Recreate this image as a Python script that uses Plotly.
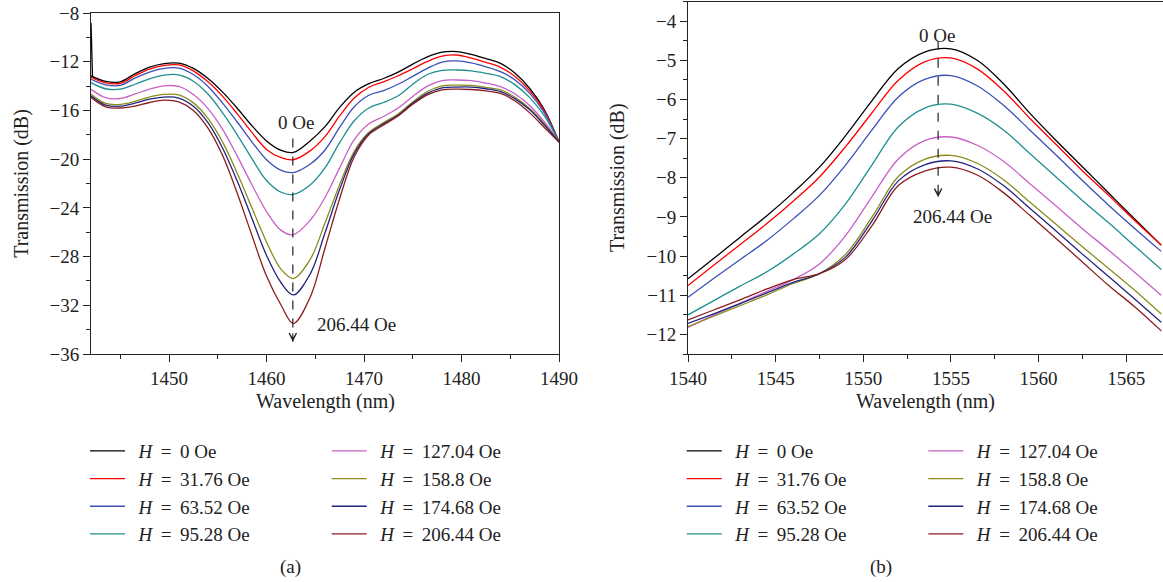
import plotly.graph_objects as go

# ---------------- data ----------------
fields = ["0", "31.76", "63.52", "95.28", "127.04", "158.8", "174.68", "206.44"]
colors = ["#000000", "#ff0000", "#3c50b4", "#1f8f8f", "#c860c8", "#8c8c1e", "#23237d", "#8b1c1c"]

# Panel (a): wavelength (nm) and transmission (dB)
xa = [1442, 1443.5, 1445, 1446.5, 1448, 1449.5, 1451, 1452.5, 1454, 1455.5, 1457, 1458.5, 1460,
      1461.5, 1462.75, 1464.5, 1466, 1467.5, 1469, 1470.5, 1472, 1473.5, 1475, 1476.5, 1478,
      1479.5, 1481, 1482.5, 1484, 1485.5, 1487, 1488.5, 1490]
ya_0 = [-13.17, -13.62, -13.65, -13.0, -12.45, -12.15, -12.12, -12.55, -13.38, -14.5, -15.82, -17.25, -18.5,
        -19.28, -19.45, -18.48, -17.33, -15.75, -14.5, -13.8, -13.38, -12.85, -12.2, -11.6, -11.22,
        -11.17, -11.4, -11.75, -12.13, -12.95, -14.2, -15.95, -18.6]
ya_1 = [-13.28, -13.73, -13.78, -13.15, -12.6, -12.3, -12.26, -12.75, -13.65, -14.85, -16.28, -17.8, -19.2,
        -19.88, -20.05, -19.3, -18.15, -16.45, -14.98, -14.1, -13.65, -13.15, -12.58, -11.98, -11.55,
        -11.45, -11.7, -12.05, -12.46, -13.22, -14.4, -16.05, -18.6]
ya_2 = [-13.45, -13.9, -13.95, -13.35, -12.85, -12.55, -12.52, -13.05, -14.03, -15.4, -16.95, -18.58, -20.05,
        -20.92, -21.1, -20.4, -19.25, -17.4, -15.7, -14.75, -14.38, -13.85, -13.2, -12.55, -12.03,
        -11.93, -12.1, -12.42, -12.82, -13.5, -14.6, -16.2, -18.6]
ya_3 = [-13.72, -14.22, -14.25, -13.85, -13.4, -13.1, -13.08, -13.6, -14.65, -16.2, -18.0, -19.95, -21.75,
        -22.72, -22.9, -22.1, -20.72, -18.65, -16.85, -15.8, -15.35, -14.8, -13.85, -13.05, -12.72,
        -12.68, -12.75, -12.95, -13.23, -13.9, -14.95, -16.45, -18.6]
ya_4 = [-14.27, -14.95, -15.02, -14.65, -14.25, -13.98, -14.03, -14.7, -15.85, -17.55, -19.75, -22.1, -24.3,
        -25.85, -26.2, -25.0, -23.15, -20.72, -18.4, -17.1, -16.5, -15.8, -14.85, -14.0, -13.55,
        -13.5, -13.56, -13.75, -14.05, -14.65, -15.6, -16.95, -18.6]
ya_5 = [-14.68, -15.42, -15.5, -15.25, -14.9, -14.68, -14.72, -15.38, -16.65, -18.6, -21.15, -24.0, -26.8,
        -29.05, -29.8, -28.2, -25.25, -22.1, -19.35, -17.8, -17.0, -16.3, -15.3, -14.45, -13.98,
        -13.92, -13.95, -14.1, -14.32, -14.92, -15.85, -17.1, -18.6]
ya_6 = [-14.82, -15.56, -15.65, -15.4, -15.08, -14.9, -14.98, -15.65, -17.0, -19.1, -21.8, -24.85, -27.9,
        -30.15, -31.15, -29.4, -26.05, -22.5, -19.55, -17.9, -17.1, -16.4, -15.4, -14.6, -14.15,
        -14.08, -14.08, -14.22, -14.46, -15.05, -15.95, -17.2, -18.6]
ya_7 = [-14.93, -15.7, -15.8, -15.65, -15.35, -15.15, -15.3, -16.0, -17.45, -19.7, -22.8, -26.25, -29.6,
        -32.0, -33.5, -31.3, -27.3, -23.25, -19.8, -18.0, -17.2, -16.45, -15.5, -14.72, -14.32,
        -14.25, -14.28, -14.4, -14.6, -15.22, -16.2, -17.4, -18.6]
# short spike at the very start of the 0 Oe trace
xa_spike = [1442.0, 1442.15]
ya_spike = [-8.8, -13.17]

# Panel (b)
xb = [1540, 1541.5, 1543, 1544.5, 1546, 1547.5, 1549, 1550.5, 1552, 1553.5, 1555, 1556.5,
      1558, 1559.5, 1561, 1562.5, 1564, 1565.5, 1567]
yb_0 = [-10.58, -10.05, -9.51, -8.97, -8.38, -7.73, -6.92, -6.03, -5.21, -4.79, -4.71, -5.0,
        -5.6, -6.35, -7.05, -7.72, -8.39, -9.06, -9.72]
yb_1 = [-10.75, -10.22, -9.7, -9.17, -8.6, -7.98, -7.2, -6.34, -5.51, -5.04, -4.94, -5.22,
        -5.78, -6.48, -7.15, -7.82, -8.45, -9.1, -9.72]
yb_2 = [-11.05, -10.56, -10.08, -9.6, -9.05, -8.45, -7.67, -6.78, -5.94, -5.49, -5.39, -5.65,
        -6.15, -6.78, -7.42, -8.07, -8.7, -9.3, -9.88]
yb_3 = [-11.5, -11.13, -10.76, -10.4, -9.95, -9.43, -8.66, -7.67, -6.7, -6.22, -6.12, -6.35,
        -6.78, -7.38, -7.98, -8.58, -9.15, -9.75, -10.34]
yb_4 = [-11.82, -11.5, -11.2, -10.9, -10.6, -10.2, -9.47, -8.48, -7.52, -7.05, -6.96, -7.17,
        -7.58, -8.15, -8.72, -9.3, -9.85, -10.42, -11.0]
yb_5 = [-11.8, -11.53, -11.26, -10.99, -10.7, -10.45, -9.95, -9.0, -7.97, -7.53, -7.43, -7.63,
        -8.05, -8.62, -9.19, -9.76, -10.32, -10.88, -11.48]
yb_6 = [-11.72, -11.47, -11.21, -10.94, -10.67, -10.45, -10.02, -9.1, -8.08, -7.67, -7.57, -7.77,
        -8.2, -8.78, -9.36, -9.95, -10.52, -11.1, -11.69]
yb_7 = [-11.63, -11.37, -11.11, -10.84, -10.6, -10.45, -10.08, -9.22, -8.2, -7.83, -7.73, -7.93,
        -8.38, -8.96, -9.55, -10.15, -10.75, -11.3, -11.91]

ya_all = [ya_0, ya_1, ya_2, ya_3, ya_4, ya_5, ya_6, ya_7]
yb_all = [yb_0, yb_1, yb_2, yb_3, yb_4, yb_5, yb_6, yb_7]

# arrow markers: x position, y start, y tip
arrow_a = [1462.7, -18.3, -35.0]
arrow_b = [1554.27, -4.5, -8.5]
labels_a = [(1463.05, -17.03, "0 Oe"), (1469.2, -33.6, "206.44 Oe")]
labels_b = [(1554.2, -4.36, "0 Oe"), (1555.09, -8.99, "206.44 Oe")]

FONT = "Liberation Serif"
INK = "#222"
W, H = 1163, 582
ML, MR, MT, MB = 91, 0, 1, 228

def fx(p):  # pixel x -> paper fraction
    return (p - ML) / (W - ML - MR)

def fy(p):  # pixel y -> paper fraction
    return (H - MB - p) / (H - MT - MB)

fig = go.Figure()

fig.add_trace(go.Scatter(x=xa_spike, y=ya_spike, mode="lines", xaxis="x", yaxis="y",
                         line=dict(color=colors[0], width=1.3), showlegend=False,
                         hoverinfo="skip"))

def label(f):
    return "\u00a0\u2009<i>H</i> \u2009=\u2009 " + f + " Oe"

for i, (f, c) in enumerate(zip(fields, colors)):
    fig.add_trace(go.Scatter(
        x=xa, y=ya_all[i], mode="lines", xaxis="x", yaxis="y",
        line=dict(color=c, width=1.3, shape="spline", smoothing=1.0),
        name=label(f), legend="legend" if i < 4 else "legend2"))

for i, (f, c) in enumerate(zip(fields, colors)):
    fig.add_trace(go.Scatter(
        x=xb, y=yb_all[i], mode="lines", xaxis="x2", yaxis="y2",
        line=dict(color=c, width=1.3, shape="spline", smoothing=1.0),
        name=label(f), legend="legend3" if i < 4 else "legend4"))

axis_common = dict(showgrid=False, zeroline=False, showline=True, linecolor=INK,
                   linewidth=1, ticks="outside", ticklen=7, tickwidth=1, tickcolor=INK,
                   automargin=False,
                   tickfont=dict(family=FONT, size=19, color=INK),
                   title_font=dict(family=FONT, size=20, color=INK))

legend_common = dict(font=dict(family=FONT, size=19, color=INK), bgcolor="rgba(0,0,0,0)",
                     xanchor="left", yanchor="top", itemwidth=35, tracegroupgap=0)

ly = fy(432.0)
fig.update_layout(
    width=W, height=H, margin=dict(l=ML, r=MR, t=MT, b=MB, autoexpand=False),
    paper_bgcolor="white", plot_bgcolor="white",
    font=dict(family=FONT, color=INK),
    xaxis=dict(domain=[0, fx(559)], range=[1442, 1490], tick0=1450, dtick=10,
               minor=dict(dtick=5, ticklen=4, tickcolor=INK, ticks="outside"),
               mirror=True, anchor="y", **axis_common),
    yaxis=dict(domain=[0, fy(13)], range=[-36, -8], tick0=-36, dtick=4,
               minor=dict(dtick=2, ticklen=4, tickcolor=INK, ticks="outside"),
               mirror=True, anchor="x", title=dict(text="Transmission (dB)", standoff=15),
               **axis_common),
    xaxis2=dict(domain=[fx(688), 1.0], range=[1540, 1567.1], tick0=1540, dtick=5,
                minor=dict(dtick=2.5, ticklen=4, tickcolor=INK, ticks="outside"),
                mirror=True, anchor="y2", **axis_common),
    yaxis2=dict(domain=[0, fy(1.5)], range=[-12.5, -3.5], tick0=-12, dtick=1,
                minor=dict(dtick=0.5, ticklen=4, tickcolor=INK, ticks="outside"),
                anchor="x2", title=dict(text="Transmission (dB)", standoff=16),
                **axis_common),
    legend=dict(x=fx(85), y=ly, **legend_common),
    legend2=dict(x=fx(326.7), y=ly, **legend_common),
    legend3=dict(x=fx(681.7), y=ly, **legend_common),
    legend4=dict(x=fx(923.3), y=ly, **legend_common),
)

shapes = []
annotations = []
for arr, xr, yr in [(arrow_a, "x", "y"), (arrow_b, "x2", "y2")]:
    shapes.append(dict(type="line", xref=xr, yref=yr, x0=arr[0], x1=arr[0], y0=arr[1], y1=arr[2],
                       line=dict(color=INK, width=1.2, dash="dash")))
    annotations.append(dict(x=arr[0], y=arr[2], xref=xr, yref=yr, ax=arr[0],
                            ay=arr[2] + (arr[1] - arr[2]) * 0.05, axref=xr, ayref=yr,
                            showarrow=True, arrowhead=5, arrowsize=1.3, arrowwidth=1.1,
                            arrowcolor=INK, text=""))
for labs, xr, yr in [(labels_a, "x", "y"), (labels_b, "x2", "y2")]:
    for (lx, lyv, t) in labs:
        annotations.append(dict(x=lx, y=lyv, xref=xr, yref=yr, text=t, showarrow=False,
                                xanchor="center", yanchor="middle",
                                font=dict(family=FONT, size=19, color=INK)))
# x-axis titles (placed just under the tick labels) and panel captions
for t, cx, cy, sz in [("Wavelength (nm)", 325, 401, 20), ("Wavelength (nm)", 925, 401, 20),
                      ("(a)", 290, 566.7, 19), ("(b)", 881, 566.7, 19)]:
    annotations.append(dict(x=fx(cx), y=fy(cy), xref="paper", yref="paper", text=t,
                            showarrow=False, xanchor="center", yanchor="middle",
                            font=dict(family=FONT, size=sz, color=INK)))

fig.update_layout(shapes=shapes, annotations=annotations)
fig.write_html("out.html", config={"displayModeBar": False},
               post_script="document.body.style.margin='0px';")
